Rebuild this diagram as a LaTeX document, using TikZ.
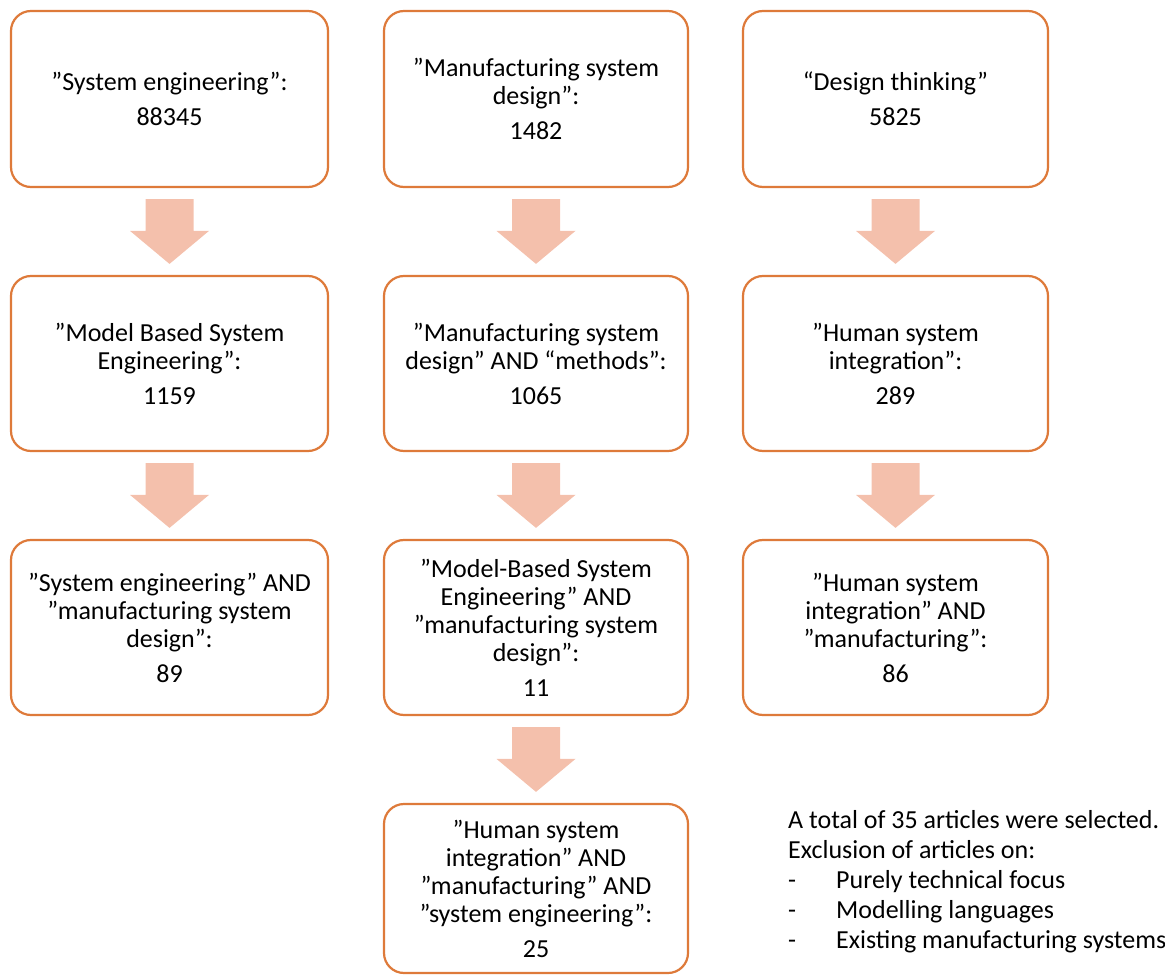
\documentclass[tikz,border=0pt]{standalone}
\usepackage{fontspec}
\setmainfont{Carlito}
\usetikzlibrary{calc}

\definecolor{boxline}{RGB}{222,122,58}
\definecolor{arrowfill}{RGB}{244,192,172}

% straight double quote
\newcommand\sq{\symbol{34}}

\tikzset{
  x=1pt, y=1pt,
  querybox/.style={draw=boxline, line width=2.2pt, rounded corners=20pt,
    fill=white, inner sep=0pt, align=center,
    font=\fontsize{26}{28}\selectfont},
  blockarrow/.style={fill=arrowfill, draw=none},
  notes/.style={inner sep=0pt, align=left, anchor=north west,
    font=\fontsize{26}{30}\selectfont}
}

% block arrow between the bottom of one box and the top of the next
\newcommand\flowarrow[2]{%
  \fill[blockarrow]
    ($(#1.south)+(-24,-11)$) -- ($(#1.south)+(24,-11)$) --
    ($(#2.north)+(24,44)$) -- ($(#2.north)+(39.5,44)$) --
    ($(#2.north)+(0,11)$) --
    ($(#2.north)+(-39.5,44)$) -- ($(#2.north)+(-24,44)$) -- cycle;}

\begin{document}
\begin{tikzpicture}
\useasboundingbox (0,0) rectangle (1165,-976);

% first column
\node[querybox, minimum width=317pt, minimum height=176pt] (se) at (169.5,-99)
  {”System engineering”:\\[7pt]88345};
\node[querybox, minimum width=317pt, minimum height=175pt] (mbse) at (169.5,-363.5)
  {”Model Based System\\Engineering”:\\[7pt]1159};
\node[querybox, minimum width=317pt, minimum height=175pt] (semsd) at (169.5,-627.5)
  {”System engineering” AND\\”manufacturing system\\design”:\\[7pt]89};

% second column
\node[querybox, minimum width=304pt, minimum height=176pt] (msd) at (536,-99)
  {”Manufacturing system\\design”:\\[7pt]1482};
\node[querybox, minimum width=304pt, minimum height=175pt] (msdm) at (536,-363.5)
  {”Manufacturing system\\design” AND “methods”:\\[7pt]1065};
\node[querybox, minimum width=304pt, minimum height=175pt] (mbsemsd) at (536,-627.5)
  {”Model-Based System\\Engineering” AND\\”manufacturing system\\design”:\\[7pt]11};
\node[querybox, minimum width=304pt, minimum height=169pt] (hsimse) at (536,-888.5)
  {\sq Human system\\integration\sq{} AND\\\sq manufacturing\sq{} AND\\\sq system engineering”:\\[7pt]25};

% third column
\node[querybox, minimum width=305pt, minimum height=176pt] (dt) at (895.5,-99)
  {“Design thinking”\\[7pt]5825};
\node[querybox, minimum width=305pt, minimum height=175pt] (hsi) at (895.5,-363.5)
  {”Human system\\integration”:\\[7pt]289};
\node[querybox, minimum width=305pt, minimum height=175pt] (hsim) at (895.5,-627.5)
  {”Human system\\integration” AND\\”manufacturing”:\\[7pt]86};

% arrows
\flowarrow{se}{mbse}
\flowarrow{mbse}{semsd}
\flowarrow{msd}{msdm}
\flowarrow{msdm}{mbsemsd}
\flowarrow{mbsemsd}{hsimse}
\flowarrow{dt}{hsi}
\flowarrow{hsi}{hsim}

% summary of the selection
\node[notes] (summary) at (788,-810)
  {A total of 35 articles were selected.\\
   Exclusion of articles on:\\
   \makebox[48pt][l]{-}Purely technical focus\\
   \makebox[48pt][l]{-}Modelling languages\\
   \makebox[48pt][l]{-}Existing manufacturing systems};
\end{tikzpicture}
\end{document}
